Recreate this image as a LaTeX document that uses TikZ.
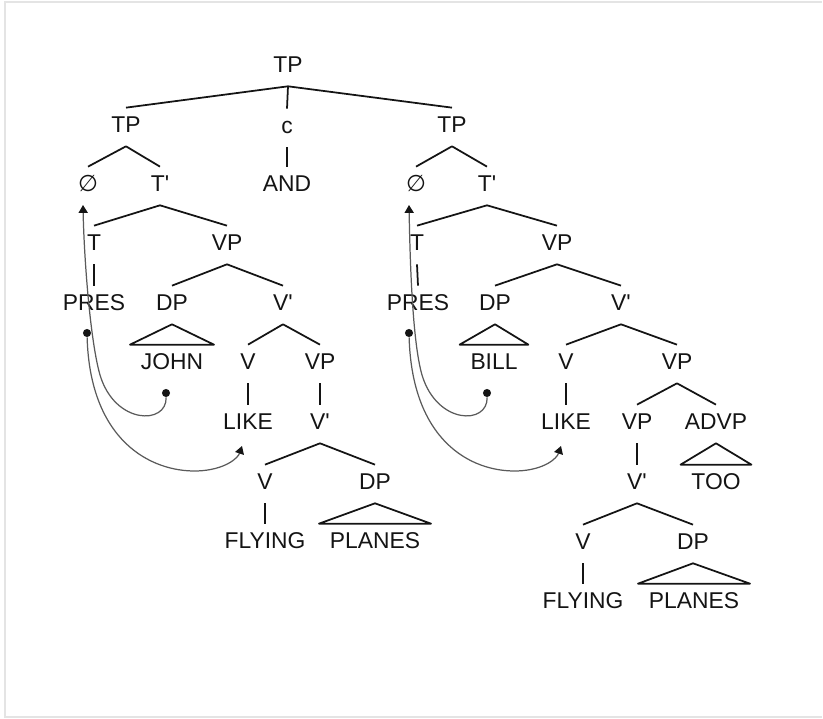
\documentclass[tikz,border=0pt]{standalone}
\usepackage{fontspec}
\setmainfont{Liberation Sans}
\newfontfamily\symfont{DejaVu Sans}
\usetikzlibrary{arrows.meta}
\definecolor{treeInk}{HTML}{141414}
\definecolor{moveInk}{HTML}{5A5A5A}
\definecolor{frameGrey}{HTML}{E4E4E4}
\newcommand{\nulcat}{{\symfont ∅}}
\newcommand{\pr}{\textquotesingle}

\begin{document}
\begin{tikzpicture}[
  x=0.02cm, y=-0.02cm,
  lbl/.style={font=\fontsize{13}{15}\selectfont,text=treeInk,text height=9.3pt,text depth=0pt,inner xsep=1pt,inner ysep=4.45pt},
  roof/.style={lbl,inner xsep=6pt},
  branch/.style={draw=treeInk,line width=1pt,line join=round},
  move/.style={draw=moveInk,line width=0.7pt,-{Triangle[length=4.5pt,width=5.2pt,color=treeInk]}},
  trace/.style={circle,fill=treeInk,inner sep=0pt,minimum size=4.6pt}
]
\useasboundingbox (0,0) rectangle (823,719);
\draw[frameGrey,line width=1.2pt] (822,2) -- (5,2) -- (5,717) -- (822,717);

% top
\node[lbl] (tp) at (288,64) {TP};
\node[lbl] (cc) at (287,125) {c};
\node[lbl] (and) at (287,183) {AND};

% first conjunct
\node[lbl] (tpA) at (126,124) {TP};
\node[lbl] (nulA) at (88,183) {\nulcat};
\node[lbl] (tbA) at (160,183) {T\pr};
\node[lbl] (tA) at (94,242) {T};
\node[lbl] (vpA) at (227,242) {VP};
\node[lbl] (presA) at (94,302) {PRES};
\node[lbl] (dpA) at (172,302) {DP};
\node[lbl] (vbA) at (283,302) {V\pr};
\node[roof] (john) at (172,361) {JOHN};
\node[lbl] (vA) at (248,361) {V};
\node[lbl] (vpA2) at (320,361) {VP};
\node[lbl] (likeA) at (248,421) {LIKE};
\node[lbl] (vbA2) at (320,421) {V\pr};
\node[lbl] (vA2) at (265,481) {V};
\node[lbl] (dpA2) at (375,481) {DP};
\node[lbl] (flyA) at (265,540) {FLYING};
\node[roof] (planesA) at (375,540) {PLANES};

% second conjunct
\node[lbl] (tpB) at (452,124) {TP};
\node[lbl] (nulB) at (416,183) {\nulcat};
\node[lbl] (tbB) at (487,183) {T\pr};
\node[lbl] (tB) at (417,242) {T};
\node[lbl] (vpB) at (557,242) {VP};
\node[lbl] (presB) at (418,302) {PRES};
\node[lbl] (dpB) at (495,302) {DP};
\node[lbl] (vbB) at (621,302) {V\pr};
\node[roof] (bill) at (494,361) {BILL};
\node[lbl] (vB) at (566,361) {V};
\node[lbl] (vpB2) at (677,361) {VP};
\node[lbl] (likeB) at (566,421) {LIKE};
\node[lbl] (vpB3) at (637,421) {VP};
\node[lbl] (advp) at (716,421) {ADVP};
\node[lbl] (vbB2) at (637,481) {V\pr};
\node[roof] (too) at (716,481) {TOO};
\node[lbl] (vB2) at (583,541) {V};
\node[lbl] (dpB2) at (693,541) {DP};
\node[lbl] (flyB) at (583,600) {FLYING};
\node[roof] (planesB) at (694,600) {PLANES};

% branches
\foreach \p/\c in {tp/tpA,tp/cc,tp/tpB,cc/and,
    tpA/nulA,tpA/tbA,tbA/tA,tbA/vpA,tA/presA,vpA/dpA,vpA/vbA,vbA/vA,vbA/vpA2,
    vA/likeA,vpA2/vbA2,vbA2/vA2,vbA2/dpA2,vA2/flyA,
    tpB/nulB,tpB/tbB,tbB/tB,tbB/vpB,tB/presB,vpB/dpB,vpB/vbB,vbB/vB,vbB/vpB2,
    vB/likeB,vpB2/vpB3,vpB2/advp,vpB3/vbB2,vbB2/vB2,vbB2/dpB2,vB2/flyB}
  \draw[branch] ([yshift=-3.4pt]\p.south) -- (\c.north);
% roofs
\foreach \p/\c in {dpA/john,dpA2/planesA,dpB/bill,advp/too,dpB2/planesB}
  \draw[branch] ([yshift=-3.4pt]\p.south) -- (\c.north west) -- (\c.north east) -- cycle;

% movement
\node[trace] (dotA) at (87,333) {};
\node[trace] (dotJohn) at (166,393) {};
\node[trace] (dotB) at (409,333) {};
\node[trace] (dotBill) at (487,393) {};
\coordinate (upA) at (83,205);
\coordinate (upB) at (409,205);
\coordinate (lowA) at (197,471);
\coordinate (lowB) at (517,471);
\coordinate (midA) at (100,375);
\coordinate (midB) at (422,375);
\coordinate (tipLikeA) at (242,446);
\coordinate (tipLikeB) at (561,446);

\draw[move] (dotA) .. controls +(3,107) and +(-47,1) .. (lowA)
  .. controls +(28,-1) and +(-4,12) .. (tipLikeA);
\draw[move] (dotJohn) .. controls +(1,32) and +(15,50) .. (midA)
  .. controls +(-10,-35) and +(1,51) .. (upA);
\draw[move] (dotB) .. controls +(3,107) and +(-47,1) .. (lowB)
  .. controls +(28,-1) and +(-4,12) .. (tipLikeB);
\draw[move] (dotBill) .. controls +(1,32) and +(15,50) .. (midB)
  .. controls +(-10,-35) and +(1,51) .. (upB);
\end{tikzpicture}
\end{document}
